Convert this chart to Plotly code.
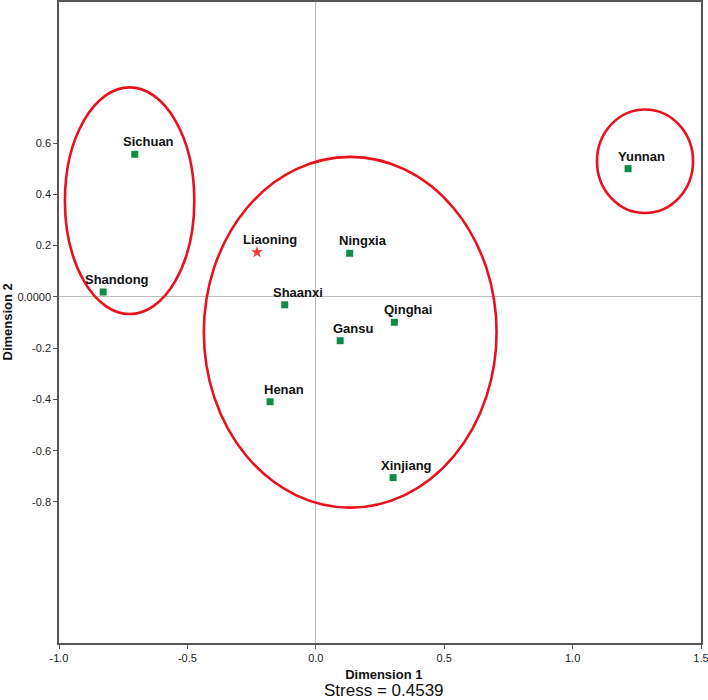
import plotly.graph_objects as go

# Data
provinces = ["Sichuan", "Shandong", "Liaoning", "Ningxia", "Shaanxi", "Gansu",
             "Qinghai", "Henan", "Xinjiang", "Yunnan"]
dim1 = [-0.705, -0.828, -0.229, 0.132, -0.121, 0.095, 0.306, -0.178, 0.301, 1.216]
dim2 = [0.556, 0.019, 0.174, 0.170, -0.031, -0.171, -0.099, -0.409, -0.705, 0.500]
highlighted = ["Liaoning"]

# Cluster ellipses: center x, center y, radius x, radius y
cluster_cx = [-0.725, 0.134, 1.282]
cluster_cy = [0.375, -0.138, 0.529]
cluster_rx = [0.252, 0.570, 0.187]
cluster_ry = [0.442, 0.684, 0.202]

x_ticks = [-1.0, -0.5, 0.0, 0.5, 1.0, 1.5]
x_ticktext = ["-1.0", "-0.5", "0.0", "0.5", "1.0", "1.5"]
y_ticks = [0.6, 0.4, 0.2, 0.0, -0.2, -0.4, -0.6, -0.8]
y_ticktext = ["0.6", "0.4", "0.2", "0.0000", "-0.2", "-0.4", "-0.6", "-0.8"]
stress = 0.4539

FONT = "Liberation Sans, Arial, sans-serif"

fig = go.Figure()

norm = [i for i, p in enumerate(provinces) if p not in highlighted]
hi = [i for i, p in enumerate(provinces) if p in highlighted]

fig.add_trace(go.Scatter(
    x=[dim1[i] for i in norm], y=[dim2[i] for i in norm],
    mode="markers",
    marker=dict(symbol="square", size=7, color="#128a48"),
    showlegend=False, hoverinfo="text", text=[provinces[i] for i in norm]))
fig.add_trace(go.Scatter(
    x=[dim1[i] for i in hi], y=[dim2[i] for i in hi],
    mode="markers",
    marker=dict(symbol="star", size=9, color="#f03a3a", line=dict(width=0)),
    showlegend=False, hoverinfo="text", text=[provinces[i] for i in hi]))

for p, x, y in zip(provinces, dim1, dim2):
    fig.add_annotation(x=x, y=y, text=p, showarrow=False, xshift=13.5, yshift=12.5,
                       xanchor="center", yanchor="middle",
                       font=dict(family=FONT, size=13, color="#111", weight="bold"))

for cx, cy, rx, ry in zip(cluster_cx, cluster_cy, cluster_rx, cluster_ry):
    fig.add_shape(type="circle", xref="x", yref="y",
                  x0=cx - rx, x1=cx + rx, y0=cy - ry, y1=cy + ry,
                  line=dict(color="#e8121c", width=2.6), layer="above")

fig.add_annotation(xref="paper", yref="paper", x=0.507, y=0, yshift=-23,
                   xanchor="center", yanchor="top", align="center", borderpad=0,
                   text=("<b>Dimension 1</b><br>"
                         "<span style='font-size:17px'>Stress = %.4f</span>" % stress),
                   showarrow=False,
                   font=dict(family=FONT, size=13, color="#111"))
fig.add_annotation(xref="paper", yref="paper", x=0, xshift=-52, y=0.5,
                   xanchor="center", yanchor="middle",
                   text="Dimension 2", showarrow=False, textangle=-90,
                   font=dict(family=FONT, size=13, color="#111", weight="bold"))

axis_common = dict(showgrid=False, zeroline=True, zerolinecolor="#bdbdbd",
                   zerolinewidth=1, showline=True, linecolor="#555555",
                   linewidth=1.5, mirror=True, ticks="outside", ticklen=4,
                   tickcolor="#555555", tickwidth=1, automargin=False,
                   ticklabeloverflow="allow",
                   tickfont=dict(family=FONT, size=11, color="#222"))

fig.update_xaxes(range=[-1.0, 1.5], tickvals=x_ticks, ticktext=x_ticktext, **axis_common)
fig.update_yaxes(range=[-1.35, 1.15], tickvals=y_ticks, ticktext=y_ticktext, **axis_common)

fig.update_layout(width=708, height=700, plot_bgcolor="white", paper_bgcolor="white",
                  margin=dict(l=59, r=7, t=2, b=57), showlegend=False)

fig.write_html("out.html", config={"displayModeBar": False},
               post_script="document.body.style.margin='0';document.body.style.padding='0';")
